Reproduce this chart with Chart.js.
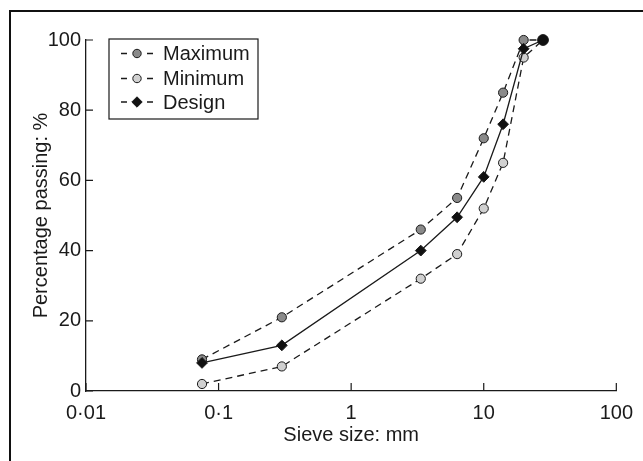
<!DOCTYPE html>
<html><head><meta charset="utf-8">
<script src="https://cdn.jsdelivr.net/npm/chart.js@4.4.1/dist/chart.umd.min.js"></script>
<style>
html,body{margin:0;padding:0;background:#fff;}
#wrap{position:relative;width:643px;height:461px;overflow:hidden;background:#fff;}
#frame{position:absolute;left:9px;top:10px;width:700px;height:500px;border-left:2px solid #111;border-top:2px solid #111;pointer-events:none;}
</style></head><body>
<div id="wrap"><canvas id="c" width="643" height="461"></canvas><div id="frame"></div></div>
<script>
// ---- data ----
const sieveSizes = [0.075, 0.3, 3.35, 6.3, 10, 14, 20, 28];
const maximumPassing = [9, 21, 46, 55, 72, 85, 100, 100];
const minimumPassing = [2, 7, 32, 39, 52, 65, 95, 100];
const designPassing = [8, 13, 40, 49.5, 61, 76, 97.5, 100];
const seriesNames = ['Maximum', 'Minimum', 'Design'];
const xTickValues = [0.01, 0.1, 1, 10, 100];
const xTickLabels = ['0·01', '0·1', '1', '10', '100'];
const yTickValues = [0, 20, 40, 60, 80, 100];
const xTitle = 'Sieve size: mm';
const yTitle = 'Percentage passing: %';

const INK = '#1a1a1a';
const FONT = 'Liberation Sans';
const FS = 20;
const toXY = vals => sieveSizes.map((s, i) => ({x: s, y: vals[i]}));

const styles = [
  {fill: '#8a8a8a', style: 'circle', r: 4.6, dash: [7, 5]},
  {fill: '#d0d0d0', style: 'circle', r: 4.6, dash: [7, 5]},
  {fill: '#111111', style: 'rectRot', r: 5.4, dash: []}
];

const decor = {
  id: 'decor',
  afterDraw(chart) {
    const ctx = chart.ctx;
    const {left, top, bottom} = chart.chartArea;
    const xs = chart.scales.x, ys = chart.scales.y;
    ctx.save();
    ctx.strokeStyle = INK; ctx.lineWidth = 1.2;
    ctx.beginPath();
    xs.ticks.forEach(t => { const p = xs.getPixelForValue(t.value); ctx.moveTo(p, bottom); ctx.lineTo(p, bottom - 8); });
    ys.ticks.forEach(t => { const p = ys.getPixelForValue(t.value); ctx.moveTo(left, p); ctx.lineTo(left + 7, p); });
    ctx.stroke();
    // legend
    const bx = left + 23, by = top - 1, bw = 149, bh = 80;
    ctx.fillStyle = '#fff';
    ctx.fillRect(bx, by, bw, bh);
    ctx.lineWidth = 1.2;
    ctx.strokeRect(bx, by, bw, bh);
    const rows = [13.5, 38.5, 62];
    seriesNames.forEach((name, i) => {
      const y = top + rows[i];
      const st = styles[i];
      ctx.setLineDash([]);
      ctx.lineWidth = 1.3; ctx.strokeStyle = INK;
      ctx.beginPath();
      ctx.moveTo(bx + 12, y); ctx.lineTo(bx + 18, y);
      ctx.moveTo(bx + 38, y); ctx.lineTo(bx + 44, y);
      ctx.stroke();
      const cx = bx + 28;
      ctx.fillStyle = st.fill; ctx.lineWidth = 1;
      ctx.beginPath();
      if (st.style === 'circle') { ctx.arc(cx, y, 4.2, 0, Math.PI * 2); }
      else { const r = 5.2; ctx.moveTo(cx, y - r); ctx.lineTo(cx + r, y); ctx.lineTo(cx, y + r); ctx.lineTo(cx - r, y); ctx.closePath(); }
      ctx.fill(); ctx.stroke();
      ctx.fillStyle = INK;
      ctx.font = FS + 'px "' + FONT + '"';
      ctx.textAlign = 'left'; ctx.textBaseline = 'middle';
      ctx.fillText(name, bx + 54, y + 1);
    });
    ctx.restore();
  }
};

const mk = (label, vals, st, order) => ({
  label, data: toXY(vals), order,
  borderColor: INK, borderWidth: 1.3, borderDash: st.dash,
  pointStyle: st.style, pointRadius: st.r, pointBorderWidth: 1,
  pointBackgroundColor: st.fill, pointBorderColor: INK,
  fill: false, tension: 0, clip: false, showLine: true
});

const dsMax = mk(seriesNames[0], maximumPassing, styles[0], 1);
const dsMin = mk(seriesNames[1], minimumPassing, styles[1], 2);
const dsDes = mk(seriesNames[2], designPassing, styles[2], 0);
dsDes.pointStyle = sieveSizes.map((s, i) => i === sieveSizes.length - 1 ? 'circle' : 'rectRot');

new Chart(document.getElementById('c'), {
  type: 'scatter',
  data: {datasets: [dsMax, dsMin, dsDes]},
  options: {
    responsive: false, animation: false, devicePixelRatio: 1,
    layout: {padding: {left: 0, top: 40, right: 26, bottom: 0}},
    plugins: {legend: {display: false}, tooltip: {enabled: false}},
    scales: {
      x: {
        type: 'logarithmic', min: 0.01, max: 100,
        afterBuildTicks: s => { s.ticks = xTickValues.map(v => ({value: v})); },
        afterFit: s => { s.height = 70; },
        grid: {drawOnChartArea: false, drawTicks: false},
        border: {color: INK, width: 1.3},
        ticks: {color: INK, font: {family: FONT, size: FS}, padding: 10, maxRotation: 0, autoSkip: false,
          callback: (v, i) => xTickLabels[i]},
        title: {display: true, text: xTitle, color: INK, font: {family: FONT, size: FS}, padding: {top: 0, bottom: 14}}
      },
      y: {
        type: 'linear', min: 0, max: 100,
        afterBuildTicks: s => { s.ticks = yTickValues.map(v => ({value: v})); },
        afterFit: s => { s.width = 86; },
        grid: {drawOnChartArea: false, drawTicks: false},
        border: {color: INK, width: 1.3},
        ticks: {color: INK, font: {family: FONT, size: FS}, padding: 5, callback: v => String(v)},
        title: {display: true, text: yTitle, color: INK, font: {family: FONT, size: FS}, padding: {top: 29.5, bottom: 0}}
      }
    }
  },
  plugins: [decor]
});
</script>
</body></html>
